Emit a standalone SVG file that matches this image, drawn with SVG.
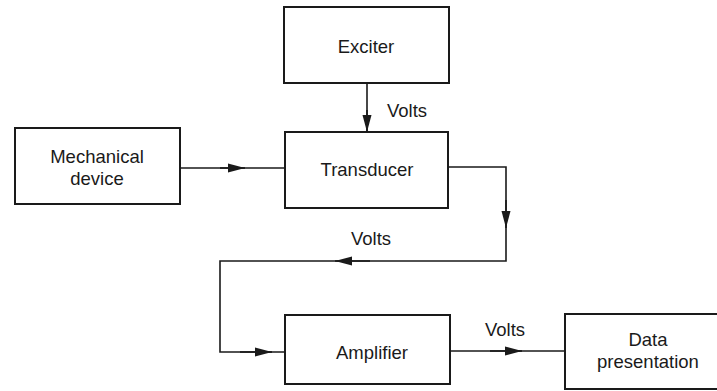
<svg xmlns="http://www.w3.org/2000/svg" width="717" height="391" viewBox="0 0 717 391">
<style>
.box{fill:#fff;stroke:#1a1a1a;stroke-width:2}
.t{font-family:"Liberation Sans",Arial,sans-serif;font-size:18.5px;fill:#1a1a1a;text-anchor:middle}
.ln{fill:none;stroke:#1a1a1a;stroke-width:1.6}
</style>
<defs>
<marker id="ah" markerUnits="userSpaceOnUse" markerWidth="18" markerHeight="10" refX="17" refY="5" orient="auto">
<path d="M0,0.5 L17,5 L0,9.5 Z" fill="#1a1a1a"/>
</marker>
</defs>
<rect width="717" height="391" fill="#fff"/>
<g id="exciter"><rect class="box" x="284" y="7" width="165" height="76"/><text class="t" x="366" y="53">Exciter</text></g>
<g id="mechanical"><rect class="box" x="15" y="128" width="165" height="76"/><text class="t" x="97" y="163">Mechanical</text><text class="t" x="97" y="185">device</text></g>
<g id="transducer"><rect class="box" x="285" y="132" width="163" height="76"/><text class="t" x="367" y="176">Transducer</text></g>
<g id="amplifier"><rect class="box" x="285" y="315" width="165" height="69"/><text class="t" x="372" y="359">Amplifier</text></g>
<g id="data"><rect class="box" x="565" y="314" width="166" height="75"/><text class="t" x="648" y="346">Data</text><text class="t" x="648" y="368">presentation</text></g>
<g id="connectors">
<path class="ln" d="M367,83 V132"/>
<path class="ln" d="M367,110 V132" marker-end="url(#ah)"/>
<path class="ln" d="M180,168 H285"/>
<path class="ln" d="M220,168 H245" marker-end="url(#ah)"/>
<path class="ln" d="M448,167 H506 V261 H220 V352 H285"/>
<path class="ln" d="M506,200 V228" marker-end="url(#ah)"/>
<path class="ln" d="M370,261 H335" marker-end="url(#ah)"/>
<path class="ln" d="M240,352 H272" marker-end="url(#ah)"/>
<path class="ln" d="M450,351 H565"/>
<path class="ln" d="M490,351 H522" marker-end="url(#ah)"/>
<text class="t" x="407" y="117">Volts</text>
<text class="t" x="371" y="245">Volts</text>
<text class="t" x="505" y="336">Volts</text>
</g>
</svg>
